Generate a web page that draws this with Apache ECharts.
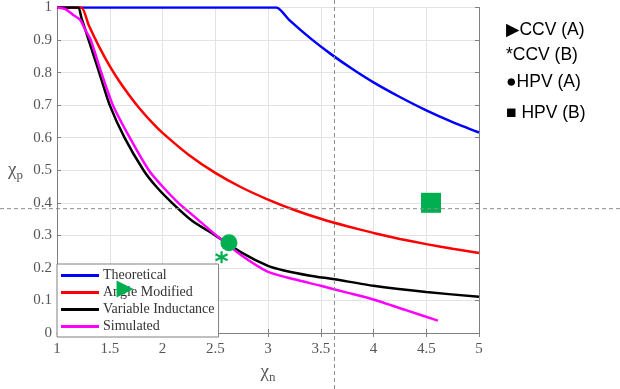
<!DOCTYPE html>
<html><head><meta charset="utf-8">
<script src="https://cdn.jsdelivr.net/npm/echarts@6/dist/echarts.min.js"></script>
<style>html,body{margin:0;padding:0;background:#fff}#c{width:620px;height:389px}</style>
</head><body><div id="c"></div>
<script>
// ---- data ----
const seriesNames = ['Theoretical', 'Angle Modified', 'Variable Inductance', 'Simulated'];
const xTheo = [1, 3.08, 3.2, 3.4, 3.6, 3.8, 4.0, 4.25, 4.5, 4.75, 5];
const yTheo = [1, 1, 0.962, 0.906, 0.856, 0.811, 0.77, 0.725, 0.684, 0.648, 0.616];
const xAngle = [1, 1.23, 1.3, 1.4, 1.5, 1.6, 1.75, 1.9, 2.0, 2.25, 2.5, 2.75, 3.0, 3.25, 3.5, 3.75, 4.0, 4.25, 4.5, 4.75, 5];
const yAngle = [1, 1, 0.946, 0.879, 0.82, 0.769, 0.703, 0.647, 0.615, 0.547, 0.492, 0.447, 0.41, 0.378, 0.351, 0.328, 0.3075, 0.289, 0.273, 0.259, 0.246];
const xVarInd = [1, 1.2, 1.23, 1.3, 1.35, 1.4, 1.5, 1.64, 1.82, 1.94, 2.09, 2.28, 2.5, 2.75, 3.0, 3.15, 3.4, 3.63, 4.0, 4.5, 5];
const yVarInd = [1, 1, 0.97, 0.90, 0.85, 0.80, 0.70, 0.60, 0.50, 0.45, 0.40, 0.345, 0.30, 0.247, 0.206, 0.192, 0.176, 0.165, 0.145, 0.126, 0.111];
const xSim = [1, 1.08, 1.15, 1.22, 1.27, 1.32, 1.42, 1.53, 1.69, 1.87, 2.0, 2.15, 2.33, 2.51, 2.75, 3.0, 3.25, 3.5, 3.75, 4.0, 4.3, 4.61];
const ySim = [1, 0.995, 0.978, 0.962, 0.93, 0.90, 0.80, 0.70, 0.60, 0.50, 0.45, 0.40, 0.35, 0.30, 0.238, 0.188, 0.165, 0.145, 0.124, 0.103, 0.071, 0.038];
const ccvA = [1.645, 0.135];
const ccvB = [2.56, 0.233];
const hpvA = [2.63, 0.277];
const hpvB = [4.545, 0.40];
const refPoint = [3.63, 0.382];
const xTicks = { min: 1, max: 5, interval: 0.5 };
const yTicks = { min: 0, max: 1, interval: 0.1 };
const noteLabels = ['\u25B6CCV (A)', '*CCV (B)', '\u25CFHPV (A)', '\u25A0 HPV (B)'];

const zip = (xs, ys) => xs.map((x, i) => [x, ys[i]]);
const colors = ['#0000ff', '#ff0000', '#000000', '#ff00ff'];
const green = '#00b050';
const serif = '"Liberation Serif", "DejaVu Serif", serif';

const chart = echarts.init(document.getElementById('c'), null, { renderer: 'canvas' });

const frameAxis = {
  axisLine: { show: true, lineStyle: { color: '#808080', width: 1 } },
  axisTick: { show: true, inside: true, length: 4, lineStyle: { color: '#808080' } },
  splitLine: { show: false }, axisLabel: { show: false }
};

const lineData = [zip(xTheo, yTheo), zip(xAngle, yAngle), zip(xVarInd, yVarInd), zip(xSim, ySim)];

const option = {
  animation: false,
  backgroundColor: '#ffffff',
  grid: { left: 57, top: 7, width: 422, height: 327, containLabel: false },
  xAxis: [{
    type: 'value', min: xTicks.min, max: xTicks.max, interval: xTicks.interval,
    name: '{a|\u03C7}{s|n}', nameLocation: 'middle', nameGap: 28,
    nameTextStyle: { rich: {
      a: { fontFamily: serif, fontSize: 19, color: '#555', verticalAlign: 'middle' },
      s: { fontFamily: serif, fontSize: 13, color: '#555', padding: [10, 0, 0, 0], verticalAlign: 'middle' } } },
    axisLine: { show: true, onZero: false, lineStyle: { color: '#808080' } },
    axisTick: { show: true, inside: true, length: 4, lineStyle: { color: '#808080' } },
    axisLabel: { color: '#555', fontFamily: serif, fontSize: 15, margin: 9,
      formatter: v => String(+v.toFixed(2)) },
    splitLine: { show: true, lineStyle: { color: '#e3e3e3', width: 1 } }
  }, Object.assign({ type: 'value', position: 'top', min: xTicks.min, max: xTicks.max, interval: xTicks.interval }, frameAxis)],
  yAxis: [{
    type: 'value', min: yTicks.min, max: yTicks.max, interval: yTicks.interval,
    name: '{a|\u03C7}{s|p}', nameLocation: 'middle', nameRotate: 0, nameGap: 34,
    nameTextStyle: { rich: {
      a: { fontFamily: serif, fontSize: 19, color: '#555', verticalAlign: 'middle' },
      s: { fontFamily: serif, fontSize: 13, color: '#555', padding: [10, 0, 0, 0], verticalAlign: 'middle' } } },
    axisLine: { show: true, onZero: false, lineStyle: { color: '#808080' } },
    axisTick: { show: true, inside: true, length: 4, lineStyle: { color: '#808080' } },
    axisLabel: { color: '#555', fontFamily: serif, fontSize: 15, margin: 5,
      formatter: v => String(+v.toFixed(2)) },
    splitLine: { show: true, lineStyle: { color: '#e3e3e3', width: 1 } }
  }, Object.assign({ type: 'value', position: 'right', min: yTicks.min, max: yTicks.max, interval: yTicks.interval }, frameAxis)],
  legend: {
    data: seriesNames.map(n => ({ name: n, icon: 'rect' })), orient: 'vertical', left: 57, top: 264,
    padding: [4, 4, 3, 4], itemGap: 2, itemWidth: 38, itemHeight: 3,
    backgroundColor: '#ffffff', borderColor: '#808080', borderWidth: 1, borderRadius: 0,
    textStyle: { fontFamily: serif, fontSize: 14, lineHeight: 15, color: '#333', padding: [0, 0, 0, -1] },
    z: 1
  },
  series: seriesNames.map((n, i) => ({
    name: n, type: 'line', data: lineData[i], symbol: 'none',
    smooth: 0.2, z: 3,
    lineStyle: { color: colors[i], width: 2.5 }, itemStyle: { color: colors[i] }
  })).concat([
    { name: 'CCV (A)', type: 'scatter', data: [ccvA], symbol: 'triangle', symbolRotate: -90, symbolSize: 17, itemStyle: { color: green, opacity: 1 }, z: 6 },
    { name: 'CCV (B)', type: 'scatter', data: [ccvB], symbol: 'path://M0,-6L0,6M-5.2,-3L5.2,3M-5.2,3L5.2,-3', symbolSize: 12,
      itemStyle: { color: 'rgba(0,0,0,0)', borderColor: green, borderWidth: 2.2, opacity: 1 }, z: 6 },
    { name: 'HPV (A)', type: 'scatter', data: [hpvA], symbol: 'circle', symbolSize: 17, itemStyle: { color: green, opacity: 1 }, z: 6 },
    { name: 'HPV (B)', type: 'scatter', data: [hpvB], symbol: 'rect', symbolSize: 20, itemStyle: { color: green, opacity: 1 }, z: 6 }
  ])
};
chart.setOption(option);

const p = chart.convertToPixel({ xAxisIndex: 0, yAxisIndex: 0 }, refPoint);
const W = chart.getWidth(), H = chart.getHeight();
const noteY = [30, 55, 82, 113];
const graphics = [
  { type: 'line', id: 'vdash', z: 10, shape: { x1: p[0], y1: 0, x2: p[0], y2: H },
    style: { stroke: '#8c8c8c', lineWidth: 1, lineDash: [4, 3] } },
  { type: 'line', id: 'hdash', z: 10, shape: { x1: 0, y1: p[1], x2: W, y2: p[1] },
    style: { stroke: '#8c8c8c', lineWidth: 1, lineDash: [4, 3] } }
].concat(noteLabels.map((t, i) => ({
  type: 'text', id: 'note' + i, x: 506, y: noteY[i], z: 10,
  style: { text: t, fill: '#000', fontSize: 17.5, fontFamily: '"Liberation Sans", "DejaVu Sans", sans-serif', verticalAlign: 'middle' }
})));
chart.setOption({ graphic: graphics });
</script></body></html>
